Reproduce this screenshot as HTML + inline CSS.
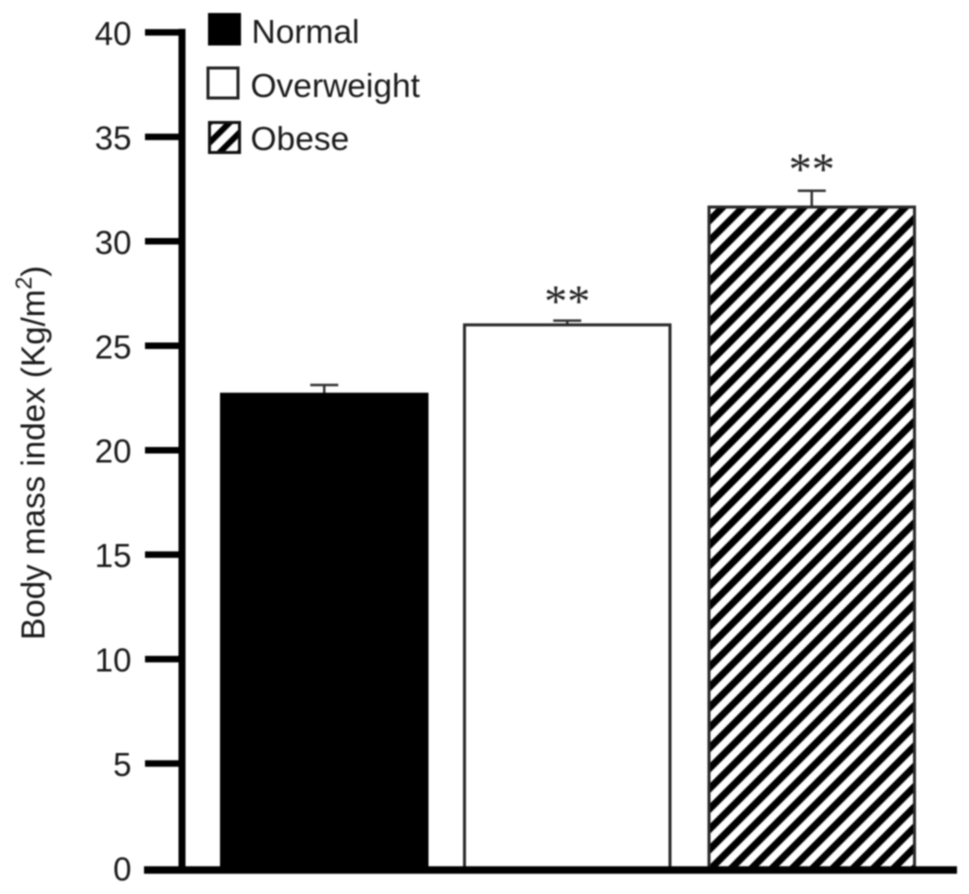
<!DOCTYPE html>
<html lang="en">
<head>
<meta charset="utf-8">
<title>Body mass index by group</title>
<style>
  html, body { margin: 0; padding: 0; background: #fff; }
  #chart { display: block; width: 969px; height: 894px; filter: blur(0.75px); }
  text { font-family: "Liberation Sans", Arial, sans-serif; fill: #1a1a1a; }
</style>
</head>
<body>
<svg id="chart" xmlns="http://www.w3.org/2000/svg" width="969" height="894" viewBox="0 0 969 894">
  <defs>
    <pattern id="hatch" patternUnits="userSpaceOnUse" width="14.35" height="14.35" patternTransform="translate(718 207) rotate(45)">
      <rect x="0" y="0" width="7" height="14.35" fill="#000"></rect>
    </pattern>
    <pattern id="hatch-small" patternUnits="userSpaceOnUse" width="14.1" height="14.1" patternTransform="translate(206 122) rotate(45)">
      <rect x="0" y="0" width="6" height="14.1" fill="#000"></rect>
    </pattern>
  </defs>
  <rect width="969" height="894" fill="#fff"></rect>
  <g id="bars"></g>
  <g id="axes"></g>
  <text transform="translate(44.5 640) rotate(-90)" font-size="33.2">Body mass index (Kg/m<tspan font-size="23" dy="-13">2</tspan><tspan dy="13">)</tspan></text>
  <g>
    <g>
      <rect x="208" y="13" width="33" height="32.5" fill="#000"></rect>
      <text x="251.5" y="43" font-size="33.5">Normal</text>
    </g>
    <g>
      <rect x="208" y="68" width="30" height="30" fill="#fff" stroke="#222" stroke-width="3"></rect>
      <text x="250.5" y="97" font-size="33.5">Overweight</text>
    </g>
    <g>
      <rect x="209.5" y="122.5" width="30" height="30" fill="url(#hatch-small)" stroke="#111" stroke-width="3"></rect>
      <text x="250.5" y="150" font-size="33.5">Obese</text>
    </g>
  </g>
</svg>
<script>
const categories = ['Normal', 'Overweight', 'Obese'];
const meanValues = [22.68, 26.0, 31.64];
const errorValues = [0.44, 0.2, 0.78];
const significance = ['', '**', '**'];
const tickValues = [0, 5, 10, 15, 20, 25, 30, 35, 40];
const tickLabels = ['0', '5', '10', '15', '20', '25', '30', '35', '40'];

const NS = 'http://www.w3.org/2000/svg';
const yZero = 868;
const yPerUnit = 20.89;
const firstBarLeft = 221.5;
const barPitch = 243.75;
const barWidth = 205.5;
const fills = ['#000', '#fff', 'url(#hatch)'];

function yScale(v) { return yZero - v * yPerUnit; }
function xBar(i) { return firstBarLeft + i * barPitch + (i === 1 ? -0.75 : 0); }
function make(tag, attrs, parent) {
  const el = document.createElementNS(NS, tag);
  Object.keys(attrs).forEach(function (k) { el.setAttribute(k, attrs[k]); });
  parent.appendChild(el);
  return el;
}

const barsGroup = document.getElementById('bars');
const axesGroup = document.getElementById('axes');

categories.forEach(function (cat, i) {
  const slug = cat.toLowerCase();
  const left = xBar(i);
  const cx = left + barWidth / 2;
  const top = yScale(meanValues[i]);
  const errTop = yScale(meanValues[i] + errorValues[i]);

  const stem = make('line', { x1: cx, x2: cx, y1: top, y2: errTop, stroke: '#333', 'stroke-width': 2.5 }, barsGroup);
  
  

  const cap = make('line', { x1: cx - 14, x2: cx + 14, y1: errTop, y2: errTop, stroke: '#333', 'stroke-width': 2.5 }, barsGroup);
  
  

  const bar = make('rect', { x: left, y: top, width: barWidth, height: yZero - top, fill: fills[i], stroke: i === 0 ? '#000' : '#2a2a2a', 'stroke-width': 3 }, barsGroup);
  
  

  if (significance[i]) {
    const mark = make('text', { x: cx, y: errTop - (i === 1 ? 4 : 6), 'text-anchor': 'middle', 'font-size': 46 }, barsGroup);
    
    
    mark.style.fontFamily = '"Liberation Serif", serif';
    mark.style.fill = '#222';
    mark.textContent = significance[i];
  }
});

const yAxisLine = make('line', { x1: 182, x2: 182, y1: yScale(40) - 3.5, y2: yZero + 5, stroke: '#000', 'stroke-width': 7 }, axesGroup);



const xAxisLine = make('line', { x1: 144, x2: 957, y1: yZero + 2, y2: yZero + 2, stroke: '#000', 'stroke-width': 7.5 }, axesGroup);



tickValues.forEach(function (v, i) {
  const y = yScale(v);
  if (v !== 0) {
    const tick = make('line', { x1: 145, x2: 182, y1: y, y2: y, stroke: '#000', 'stroke-width': 6.5 }, axesGroup);
    
    
  }

  const label = make('text', { x: 131.5, y: y + 12.5, 'text-anchor': 'end', 'font-size': 33 }, axesGroup);
  
  
  label.textContent = tickLabels[i];
});
</script>
</body>
</html>
